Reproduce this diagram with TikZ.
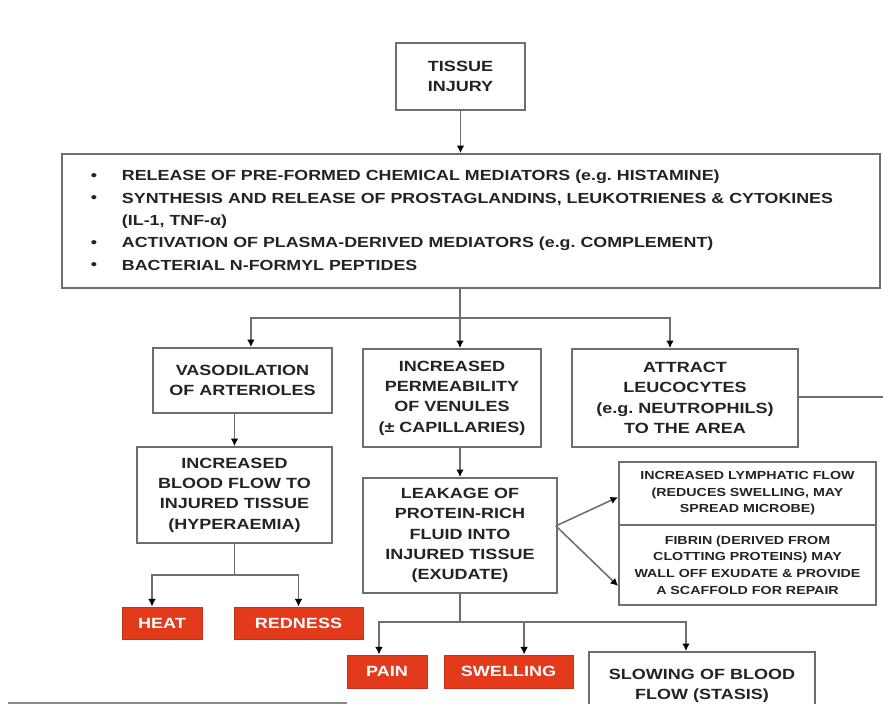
\documentclass[tikz,border=0pt]{standalone}
\usepackage{fontspec}
\usetikzlibrary{arrows.meta, positioning}
\newfontfamily\diagfont[FakeStretch=1.22]{Liberation Sans}
\definecolor{linegray}{RGB}{110,110,110}
\definecolor{textgray}{RGB}{35,35,35}
\definecolor{symptomred}{RGB}{228,58,28}
\frenchspacing
\tikzset{%
	stage box/.style={
		draw=linegray,
		line width=1.2pt,
		align=center,
		inner sep=0pt,
		text=textgray,
		font=\diagfont\bfseries\fontsize{10.5}{14.5}\selectfont
	},
	note box/.style={
		stage box,
		font=\diagfont\bfseries\fontsize{8.3}{11.8}\selectfont
	},
	sign box/.style={
		fill=symptomred,
		draw=symptomred!85!black,
		line width=0.6pt,
		inner sep=0pt,
		text=white,
		font=\diagfont\bfseries\fontsize{10.5}{14.5}\selectfont
	},
	link/.style={
		draw=linegray,
		line width=1.1pt,
		-{Latex[length=1.9mm, width=1.9mm, color=black]}
	},
	plain link/.style={
		draw=linegray,
		line width=1.1pt
	},
}
\newcommand{\medbullet}{\raisebox{0.3pt}{\textbullet}}

\begin{document}
\begin{tikzpicture}[x=0.025cm, y=-0.025cm]
			\useasboundingbox (0,0) rectangle (883,704);
			\clip (0,0) rectangle (883,704);
			
			% Draw the injury box
			\node[stage box, minimum width=3.225cm, minimum height=1.675cm] (injury) at (460.5,76.5) {TISSUE\\INJURY};
			
			% Draw the mediator list
			\node[stage box, minimum width=20.45cm, minimum height=3.35cm, font=\diagfont\bfseries\fontsize{10.4}{15.9}\selectfont] (mediators) at (471,221)
			{\begin{tabular}{@{}p{0.775cm}@{}l@{\hspace{0.45cm}}}
					\medbullet & RELEASE OF PRE-FORMED CHEMICAL MEDIATORS (e.g. HISTAMINE)\\
					\medbullet & SYNTHESIS AND RELEASE OF PROSTAGLANDINS, LEUKOTRIENES \& CYTOKINES\\
					& (IL-1, TNF-α)\\
					\medbullet & ACTIVATION OF PLASMA-DERIVED MEDIATORS (e.g. COMPLEMENT)\\
					\medbullet & BACTERIAL N-FORMYL PEPTIDES
				\end{tabular}};
			
			% Draw the three responses
			\node[stage box, minimum width=4.475cm, minimum height=1.625cm] (vasodil) at (242.5,380.5) {VASODILATION\\OF ARTERIOLES};
			\node[stage box, minimum width=4.45cm, minimum height=2.45cm] (perm) at (452,398) {INCREASED\\PERMEABILITY\\OF VENULES\\(± CAPILLARIES)};
			\node[stage box, minimum width=5.65cm, minimum height=2.45cm] (attract) at (685,398) {ATTRACT\\LEUCOCYTES\\(e.g. NEUTROPHILS)\\TO THE AREA};
			
			% Draw the second row
			\node[stage box, minimum width=4.875cm, minimum height=2.4cm] (bloodflow) at (234.5,495) {INCREASED\\BLOOD FLOW TO\\INJURED TISSUE\\(HYPERAEMIA)};
			\node[stage box, minimum width=4.85cm, minimum height=2.875cm] (leakage) at (460,535.5) {LEAKAGE OF\\PROTEIN-RICH\\FLUID INTO\\INJURED TISSUE\\(EXUDATE)};
			\node[note box, minimum width=6.425cm, minimum height=1.575cm] (lymph) at (747.5,493.5) {INCREASED LYMPHATIC FLOW\\(REDUCES SWELLING, MAY\\SPREAD MICROBE)};
			\node[note box, minimum width=6.425cm, minimum height=2cm] (fibrin) at (747.5,565) {FIBRIN (DERIVED FROM\\CLOTTING PROTEINS) MAY\\WALL OFF EXUDATE \& PROVIDE\\A SCAFFOLD FOR REPAIR};
			
			% Draw the signs
			\node[sign box, minimum width=2cm, minimum height=0.8cm] (heat) at (162,623) {HEAT};
			\node[sign box, minimum width=3.225cm, minimum height=0.8cm] (redness) at (298.5,623) {REDNESS};
			\node[sign box, minimum width=2cm, minimum height=0.825cm] (pain) at (387,671.5) {PAIN};
			\node[sign box, minimum width=3.225cm, minimum height=0.825cm] (swelling) at (508.5,671.5) {SWELLING};
			\node[stage box, minimum width=5.65cm, minimum height=1.7cm] (stasis) at (702,686) {SLOWING OF BLOOD\\FLOW (STASIS)};
			
			% Draw the arrows
			\draw[link] (injury) -- (injury |- mediators.north);
			\coordinate (split) at (460,318);
			\draw[plain link] (mediators.south -| split) -- (split);
			\draw[link] (split) -| ([xshift=0.21cm]vasodil.north);
			\draw[link] (split) -- (split |- perm.north);
			\draw[link] (split) -| ([xshift=-0.375cm]attract.north);
			\coordinate (outlet) at (883,397);
			\draw[plain link] (attract.east |- outlet) -- (outlet);
			
			\draw[link] (bloodflow.north |- vasodil.south) -- (bloodflow.north);
			\draw[link] (leakage.north |- perm.south) -- (leakage.north);
			
			\coordinate (heatsplit) at (234.5,575);
			\draw[plain link] (bloodflow.south) -- (heatsplit);
			\draw[link] (heatsplit) -| ([xshift=-0.25cm]heat.north);
			\draw[link] (heatsplit) -| (redness.north);
			
			\coordinate (painsplit) at (460,622);
			\draw[plain link] (leakage.south) -- (painsplit);
			\draw[link] (painsplit) -| ([xshift=-0.2cm]pain.north);
			\draw[link] (painsplit) -| ([xshift=0.39cm]swelling.north);
			\draw[link] (painsplit) -| ([xshift=-0.4cm]stasis.north);
			
			\coordinate (fork) at ([xshift=-0.05cm, yshift=0.24cm]leakage.east);
			\draw[link] (fork) -- ([yshift=-0.09cm]lymph.west);
			\draw[link] (fork) -- ([yshift=-0.525cm]fibrin.west);
			
			% Draw the edge at the bottom
			\coordinate (edgeleft) at (8,703);
			\coordinate (edgeright) at (347,703);
			\draw[linegray!80, line width=2pt] (edgeleft) -- (edgeright);
			
		\end{tikzpicture}
\end{document}
